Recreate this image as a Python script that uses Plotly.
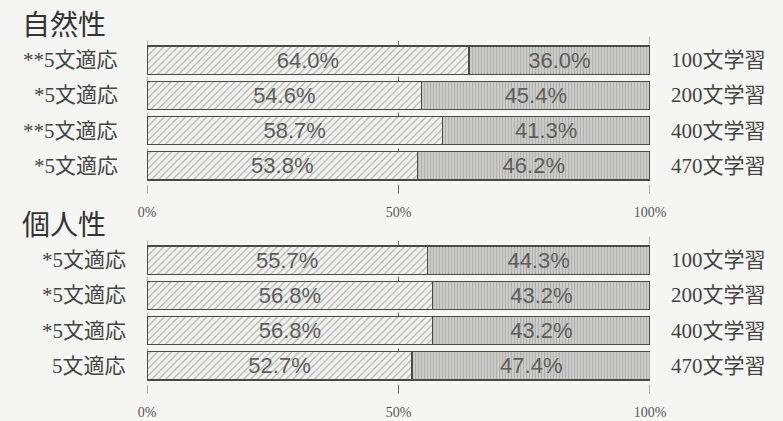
import plotly.graph_objects as go

# ---- data ----
right_labels = ["100文学習", "200文学習", "400文学習", "470文学習"]
nat_left_labels = ["**5文適応", "*5文適応", "**5文適応", "*5文適応"]
nat_a = [64.0, 54.6, 58.7, 53.8]
nat_b = [36.0, 45.4, 41.3, 46.2]
ind_left_labels = ["*5文適応", "*5文適応", "*5文適応", "5文適応"]
ind_a = [55.7, 56.8, 56.8, 52.7]
ind_b = [44.3, 43.2, 43.2, 47.4]
panel_titles = ["自然性", "個人性"]
xtick_vals = [0, 50, 100]
xtick_text = ["0%", "50%", "100%"]

W, H = 783, 421
xdom = [147 / W, 650 / W]
ydoms = [[1 - 183.6 / H, 1 - 42.4 / H], [1 - 383.6 / H, 1 - 242.4 / H]]
left_shift = [-27, -19]

BG = "#f5f5f3"
LABEL_FONT = "Liberation Serif, Noto Sans CJK JP"
fig = go.Figure()

panels = [
    (nat_left_labels, nat_a, nat_b),
    (ind_left_labels, ind_a, ind_b),
]

for p, (left_labels, a_vals, b_vals) in enumerate(panels):
    xa = "x" if p == 0 else "x2"
    ya = "y" if p == 0 else "y2"
    idx = list(range(len(a_vals)))
    common = dict(
        orientation="h", y=idx, xaxis=xa, yaxis=ya, width=0.8,
        texttemplate="%{x:.1f}%", textposition="inside", insidetextanchor="middle",
        constraintext="none",
        textfont=dict(family="Liberation Sans, Arial", size=22, color="#5e5e5e"),
        hoverinfo="skip", showlegend=False,
    )
    fig.add_trace(go.Bar(
        x=a_vals,
        marker=dict(color="#f2f2f0",
                    line=dict(color="#4a4a4a", width=1.3),
                    pattern=dict(shape="/", bgcolor="#f1f1ef", fgcolor="#6e6e6e",
                                 size=5, solidity=0.22)),
        **common))
    fig.add_trace(go.Bar(
        x=b_vals,
        marker=dict(color="#c8c8c6",
                    line=dict(color="#4a4a4a", width=1.3),
                    pattern=dict(shape="|", bgcolor="#cbcbc9", fgcolor="#969694",
                                 size=3, solidity=0.35)),
        **common))
    # left and right labels
    for i in idx:
        fig.add_annotation(x=0, y=i, xref=xa, yref=ya, text=left_labels[i],
                           xanchor="right", yanchor="middle", xshift=left_shift[p],
                           showarrow=False,
                           font=dict(family=LABEL_FONT, size=21, color="#444"))
        fig.add_annotation(x=100, y=i, xref=xa, yref=ya, text=right_labels[i],
                           xanchor="left", yanchor="middle", xshift=19,
                           showarrow=False,
                           font=dict(family=LABEL_FONT, size=21, color="#444"))
    # panel title
    fig.add_annotation(x=20 / W, y=ydoms[p][1] + 41 / H, xref="paper", yref="paper",
                       text=panel_titles[p], xanchor="left", yanchor="top",
                       showarrow=False,
                       font=dict(family="Noto Sans CJK JP", size=28, color="#333"))
    # dashed guide lines
    y0, y1 = ydoms[p]
    for xv in [0, 50]:
        fig.add_shape(type="line", xref=xa, yref="paper", x0=xv, x1=xv,
                      y0=y0 - 10 / H, y1=y1 + 4 / H,
                      line=dict(color="#666", width=1, dash="dash"), layer="below")
    for (s0, s1) in [(y1 - 2 / H, y1 + 6 / H), (y0 - 10 / H, y0 + 2 / H)]:
        fig.add_shape(type="line", xref=xa, yref="paper", x0=100, x1=100,
                      y0=s0, y1=s1, line=dict(color="#666", width=1, dash="dash"),
                      layer="below")

axis_x = dict(range=[0, 100], domain=xdom, tickvals=xtick_vals, ticktext=xtick_text,
              showgrid=False, zeroline=False, showline=False, ticks="",
              ticklabelstandoff=18, fixedrange=True, automargin=False,
              tickfont=dict(family="Liberation Serif", size=14, color="#555"))
axis_y = dict(range=[3.5, -0.5], showticklabels=False, showgrid=False,
              zeroline=False, showline=False, ticks="", fixedrange=True,
              automargin=False)

fig.update_layout(
    width=W, height=H,
    margin=dict(l=0, r=0, t=0, b=0, pad=0, autoexpand=False),
    paper_bgcolor=BG, plot_bgcolor=BG, barmode="stack", bargap=0.2,
    xaxis=dict(anchor="y", **axis_x),
    yaxis=dict(anchor="x", domain=ydoms[0], **axis_y),
    xaxis2=dict(anchor="y2", **axis_x),
    yaxis2=dict(anchor="x2", domain=ydoms[1], **axis_y),
)

fig.write_html(
    "out.html",
    config={"displayModeBar": False},
    post_script="document.body.style.margin='0';document.body.style.overflow='hidden';",
)
